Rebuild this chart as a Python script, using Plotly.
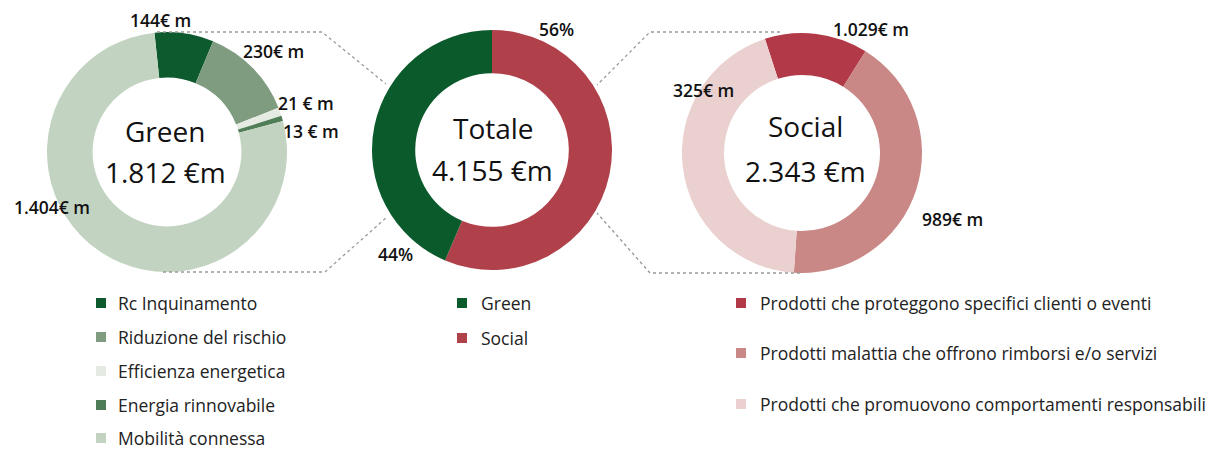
import plotly.graph_objects as go

W, H = 1220, 450
FONT = "Open Sans"

# Green breakdown
green_labels = ["Rc Inquinamento", "Riduzione del rischio", "Efficienza energetica",
                "Energia rinnovabile", "Mobilità connessa"]
green_values = [144, 230, 21, 13, 1404]
green_colors = ["#0d5a2e", "#7f9c81", "#e5ebe3", "#4f7d57", "#c3d3c1"]
green_text = ["144€ m", "230€ m", "21 € m", "13 € m", "1.404€ m"]

# Totale
tot_labels = ["Green", "Social"]
tot_values = [1812, 2343]
tot_colors = ["#0a5a2b", "#b0414b"]
tot_text = ["44%", "56%"]

# Social breakdown
social_labels = ["Prodotti che proteggono specifici clienti o eventi",
                 "Prodotti malattia che offrono rimborsi e/o servizi",
                 "Prodotti che promuovono comportamenti responsabili"]
social_values = [325, 989, 1029]
social_colors = ["#b23a48", "#c98886", "#ead0cf"]
social_text = ["325€ m", "989€ m", "1.029€ m"]


def px(x, y):
    return x / W, 1 - y / H


def dom(cx, cy, r):
    return dict(x=[(cx - r) / W, (cx + r) / W], y=[1 - (cy + r) / H, 1 - (cy - r) / H])


fig = go.Figure()
fig.add_trace(go.Pie(labels=green_labels, values=green_values, hole=0.62, sort=False,
                     direction="clockwise", rotation=-6, textinfo="none",
                     marker=dict(colors=green_colors), domain=dom(167, 152, 120),
                     showlegend=False))
# social first so it runs clockwise from 12 o'clock, green closes the ring
fig.add_trace(go.Pie(labels=tot_labels[::-1], values=tot_values[::-1], hole=0.64, sort=False,
                     direction="clockwise", rotation=0, textinfo="none",
                     marker=dict(colors=tot_colors[::-1]), domain=dom(492, 150, 120),
                     showlegend=False))
fig.add_trace(go.Pie(labels=social_labels, values=social_values, hole=0.65, sort=False,
                     direction="clockwise", rotation=-18, textinfo="none",
                     marker=dict(colors=social_colors), domain=dom(802, 153, 120),
                     showlegend=False))

ann = []
shapes = []


def label(text, x, y, size=17.5, weight=600):
    ax, ay = px(x, y)
    ann.append(dict(text=text, x=ax, y=ay, xref="paper", yref="paper", showarrow=False,
                    xanchor="center", yanchor="middle",
                    font=dict(size=size, color="#111", weight=weight)))


# slice value labels (positions as in the picture)
for t, (x, y) in zip(green_text, [(160, 20), (273, 51), (306, 103), (311, 131), (52, 207)]):
    label(t, x, y)
for t, (x, y) in zip(tot_text, [(395, 254), (556, 29)]):
    label(t, x, y)
for t, (x, y) in zip(social_text, [(703, 90), (952, 219), (871, 29)]):
    label(t, x, y)

# centre titles
label("Green", 165, 131, 28, "normal")
label(f"{sum(green_values):,} €m".replace(",", "."), 165, 172, 28, "normal")
label("Totale", 493, 128, 28, "normal")
label(f"{sum(tot_values):,} €m".replace(",", "."), 492, 170, 28, "normal")
label("Social", 805, 126, 28, "normal")
label(f"{sum(social_values):,} €m".replace(",", "."), 805, 171, 28, "normal")

# dotted connectors
dot = dict(color="#999", width=1.3, dash="dot")
for pts in [[(157, 32), (322, 32), (386, 84)], [(163, 272), (325, 272), (387, 217)],
            [(780, 32), (650, 32), (597, 85)], [(800, 273), (650, 273), (597, 213)]]:
    path = "M " + " L ".join(f"{x / W},{1 - y / H}" for x, y in pts)
    shapes.append(dict(type="path", path=path, xref="paper", yref="paper", line=dot))


# manual legends
def legend(labels, colors, mx, tx, ys):
    for lab, col, y in zip(labels, colors, ys):
        x0, y0 = px(mx - 5, y - 5)
        x1, y1 = px(mx + 5, y + 5)
        shapes.append(dict(type="rect", xref="paper", yref="paper", x0=x0, x1=x1,
                           y0=y1, y1=y0, fillcolor=col, line=dict(width=0)))
        ax, ay = px(tx, y)
        ann.append(dict(text=lab, x=ax, y=ay, xref="paper", yref="paper", showarrow=False,
                        xanchor="left", yanchor="middle", font=dict(size=17.5, color="#222")))


legend(green_labels, green_colors, 101, 116, [303, 337, 371, 405, 438])
legend(tot_labels, tot_colors, 462, 479, [303, 338])
legend(social_labels, social_colors, 741, 758, [303, 353, 404])

fig.update_layout(width=W, height=H, margin=dict(l=0, r=0, t=0, b=0),
                  paper_bgcolor="white", plot_bgcolor="white",
                  font=dict(family=FONT), annotations=ann, shapes=shapes)
fig.write_html("out.html", config={"displayModeBar": False},
               post_script="document.body.style.margin='0';")
